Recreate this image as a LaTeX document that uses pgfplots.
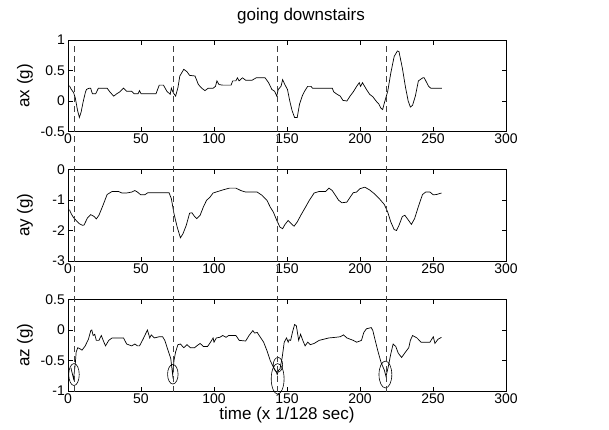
\documentclass[border=0pt]{standalone}
\usepackage{fontspec}
\setmainfont{Liberation Sans}
\usepackage{pgfplots}
\pgfplotsset{compat=1.18}

% accelerometer traces, going downstairs (x in samples, 128 Hz)
\pgfplotstableread{
t ax
1 0.25
2 0.20
3.8 0.14
5 0.05
6.5 -0.15
7.8 -0.27
9 -0.18
10.5 0.00
12 0.15
12.7 0.19
14.5 0.21
15.5 0.21
16.7 0.12
19 0.12
20.8 0.21
26.8 0.21
29 0.14
31.3 0.08
33.5 0.12
35.5 0.15
38 0.21
40.2 0.16
43.6 0.16
45.3 0.12
48 0.12
49 0.17
50 0.12
60.3 0.12
62.5 0.26
65.4 0.26
67.7 0.16
70 0.11
70.8 0.21
72 0.14
73.7 0.08
75.3 0.22
76.6 0.41
79.3 0.52
81.5 0.48
83.3 0.42
87 0.41
89.3 0.27
91.6 0.21
93.8 0.17
96 0.21
99.4 0.21
101 0.24
102 0.33
103.4 0.27
106 0.26
111.7 0.26
112.8 0.33
115 0.33
116 0.38
117.2 0.33
119.5 0.38
121.7 0.34
126 0.34
128.9 0.38
135 0.38
137.4 0.30
139.6 0.19
141.5 0.16
143 0.08
144 0.19
145.9 0.24
147 0.35
148.5 0.27
150.3 0.19
151.9 0.00
153.5 -0.16
155.2 -0.27
157 -0.27
158.6 -0.05
160.4 0.08
162 0.16
164.2 0.24
166.4 0.24
167.5 0.21
181 0.21
182 0.15
184.3 0.11
186.5 0.08
188.3 0.01
191 0.00
193.2 0.08
195.4 0.15
197.7 0.24
199.5 0.30
200.4 0.24
201.7 0.30
204.4 0.19
206.6 0.11
208.8 0.07
211 0.00
212.9 -0.05
214.4 -0.12
215.5 -0.14
216.7 -0.03
219 0.16
221.1 0.46
223.4 0.73
225.6 0.82
226.7 0.81
229 0.54
231.2 0.22
233 0.00
234.5 -0.10
236 -0.07
237.9 0.08
240 0.33
243 0.38
244 0.38
247 0.24
248.5 0.21
256 0.21
}\axdata

\pgfplotstableread{
t ay
1 -1.32
2.2 -1.45
3.8 -1.58
5.6 -1.67
7.8 -1.78
10 -1.83
11 -1.82
13.4 -1.58
15.6 -1.48
17.9 -1.54
19.4 -1.62
21.2 -1.50
23.9 -1.18
26.8 -0.82
30.2 -0.72
34.6 -0.72
36.9 -0.77
40.2 -0.77
43.6 -0.74
45.8 -0.69
47.6 -0.74
49.8 -0.83
52.5 -0.83
54.7 -0.76
69.2 -0.76
70.8 -0.96
72.6 -1.45
74.8 -1.89
77 -2.24
78.8 -2.10
81 -1.83
83.3 -1.43
84.9 -1.42
86.7 -1.54
88.2 -1.61
90.5 -1.50
92.7 -1.23
94.9 -1.01
97.2 -0.91
99.4 -0.77
102.7 -0.72
106 -0.67
110.6 -0.61
115 -0.61
118.4 -0.69
121.7 -0.74
129.6 -0.74
133 -0.85
136.3 -1.01
138.5 -1.23
140.7 -1.40
143 -1.67
145.2 -1.89
147 -1.94
148.5 -1.81
150.8 -1.67
152.6 -1.76
154.8 -1.86
157 -1.72
159.7 -1.48
162 -1.29
165.3 -1.01
168.6 -0.77
172 -0.72
176.5 -0.72
178.7 -0.61
181 -0.69
183.2 -0.85
185.4 -1.01
187.6 -1.09
191 -1.07
193.2 -0.91
195.4 -0.76
197.7 -0.74
199.9 -0.63
203.3 -0.58
206.6 -0.67
210 -0.80
213.3 -0.96
216.7 -1.15
219 -1.40
221.1 -1.72
223.4 -1.97
225 -2.00
226.7 -1.83
229 -1.54
230.7 -1.50
233 -1.65
235.2 -1.80
237.4 -1.61
240 -1.21
242.8 -0.82
245 -0.74
247.9 -0.74
250.2 -0.83
252.4 -0.82
255.8 -0.77
}\aydata

\pgfplotstableread{
t az
2 -0.62
3.8 -0.80
5 -0.55
5.6 -0.36
6.7 -0.29
8.3 -0.31
9.6 -0.33
11.8 -0.26
14 -0.15
15.6 -0.01
16.3 0.00
17.2 -0.09
18.3 -0.07
19.4 -0.17
21.2 -0.17
22.8 -0.09
24.6 -0.20
25.7 -0.26
27.9 -0.17
30.2 -0.13
38 -0.13
40.2 -0.23
43.6 -0.26
45.8 -0.23
47.6 -0.26
49 -0.26
51.4 -0.15
53 -0.07
54.4 0.00
56 -0.13
57 -0.08
59.2 -0.13
62.5 -0.11
64.8 -0.11
66.3 -0.17
68.6 -0.34
70.4 -0.47
71.7 -0.74
72.6 -0.50
73.7 -0.36
75.3 -0.24
77 -0.23
79.3 -0.29
81.5 -0.24
83.8 -0.29
86.7 -0.29
88.2 -0.26
90.5 -0.22
92.7 -0.27
95.6 -0.27
97.6 -0.20
99.4 -0.13
100 -0.20
101.6 -0.13
103.9 -0.12
106 -0.09
108.3 -0.12
110 -0.09
115 -0.09
117.3 -0.17
121.7 -0.18
124 -0.09
126.6 -0.01
127.8 -0.05
129.6 -0.04
131.8 -0.12
134 -0.20
136.3 -0.34
138.5 -0.50
140.7 -0.61
142.5 -0.68
143.3 -0.73
144.2 -0.66
145.2 -0.64
146.7 -0.45
148.1 -0.20
149.7 -0.13
150.8 -0.20
151.4 -0.16
152.5 -0.17
153.7 -0.04
155.2 0.09
156.4 0.07
158 -0.17
159.3 -0.07
160.8 -0.17
162.4 -0.26
164.2 -0.20
166 -0.24
168.6 -0.22
172 -0.17
175.3 -0.15
178.7 -0.13
183.2 -0.12
186.5 -0.11
188.7 -0.08
191 -0.13
193.2 -0.15
195.4 -0.17
197.7 -0.20
201 -0.17
202.6 -0.04
204.4 0.02
207.7 0.04
208.8 -0.01
210 -0.13
212.2 -0.34
214.4 -0.53
216.7 -0.66
217.8 -0.76
219.3 -0.61
221.1 -0.39
222.7 -0.23
224.5 -0.27
226.2 -0.38
228.5 -0.45
231.2 -0.36
233.4 -0.29
234.5 -0.17
236 -0.09
239 -0.13
241.9 -0.20
247.9 -0.20
250.2 -0.11
251.3 -0.22
253.5 -0.15
255.8 -0.12
}\azdata

\pgfplotsset{
  panel/.style={
    scale only axis,
    width=438pt, height=91.5pt,
    anchor=north west,
    xmin=0, xmax=300,
    xtick={0,50,...,300},
    tick align=inside,
    major tick length=4.5pt,
    tick style={black, line width=0.5pt},
    axis line style={line width=0.9pt},
    ticklabel style={font=\fontsize{14}{16}\selectfont},
    /pgf/number format/assume math mode=true,
    xticklabel style={inner sep=2.5pt},
    yticklabel style={inner sep=3pt},
    every axis y label/.style={at={(axis description cs:0,0.5)},
      xshift=-43pt, rotate=90, anchor=center,
      font=\fontsize{17}{19}\selectfont},
  },
  trace/.style={black, line width=0.7pt},
}

\begin{document}
\begin{tikzpicture}
\useasboundingbox (0pt,0pt) rectangle (609pt,-429pt);

% top: ax
\begin{axis}[panel, at={(68pt,-40pt)},
  ymin=-0.5, ymax=1, ytick={-0.5,0,0.5,1},
  yticklabels={-0.5,0,0.5,1},
  ylabel={ax (g)},
  title={going downstairs},
  every axis title/.style={at={(axis description cs:0.5,1)},
    anchor=base, yshift=20pt, xshift=14pt,
    font=\fontsize{17}{19}\selectfont}]
  \addplot[trace] table[x=t, y=ax] {\axdata};
\end{axis}

% middle: ay
\begin{axis}[panel, at={(68pt,-169.5pt)},
  ymin=-3, ymax=0, ytick={-3,-2,-1,0},
  yticklabels={-3,-2,-1,0},
  ylabel={ay (g)}]
  \addplot[trace] table[x=t, y=ay] {\aydata};
\end{axis}

% bottom: az, with the heel-strike minima circled
\begin{axis}[panel, at={(68pt,-299.5pt)},
  ymin=-1, ymax=0.5, ytick={-1,-0.5,0,0.5},
  yticklabels={-1,-0.5,0,0.5},
  ylabel={az (g)},
  xlabel={time (x 1/128 sec)},
  every axis x label/.style={at={(axis description cs:0.5,0)},
    anchor=base, yshift=-28pt, font=\fontsize{17}{19}\selectfont},
  clip=false]
  \addplot[trace] table[x=t, y=az] {\azdata};
  \draw[black, line width=0.6pt] (axis cs:4.1,-0.73) ellipse [x radius=3.6, y radius=0.18];
  \draw[black, line width=0.6pt] (axis cs:71.8,-0.725) ellipse [x radius=3.6, y radius=0.16];
  \draw[black, line width=0.6pt] (axis cs:143.6,-0.80) ellipse [x radius=4.4, y radius=0.25];
  \draw[black, line width=0.6pt] (axis cs:143.8,-0.57) ellipse [x radius=3.2, y radius=0.12];
  \draw[black, line width=0.6pt] (axis cs:217.4,-0.73) ellipse [x radius=4.4, y radius=0.22];
\end{axis}

% step markers running through all three panels
\begin{axis}[scale only axis, width=438pt, height=351.5pt,
  anchor=north west, at={(68pt,-40pt)},
  xmin=0, xmax=300, ymin=0, ymax=1, hide axis, clip=false]
  \addplot[black!75, line width=0.6pt, dash pattern=on 6pt off 4pt]
    coordinates {(4,0) (4,0.983)};
  \addplot[black!75, line width=0.6pt, dash pattern=on 6pt off 4pt]
    coordinates {(72,0) (72,0.983)};
  \addplot[black!75, line width=0.6pt, dash pattern=on 6pt off 4pt]
    coordinates {(143.5,0) (143.5,0.983)};
  \addplot[black!75, line width=0.6pt, dash pattern=on 6pt off 4pt]
    coordinates {(218,0) (218,0.983)};
\end{axis}
\end{tikzpicture}
\end{document}
